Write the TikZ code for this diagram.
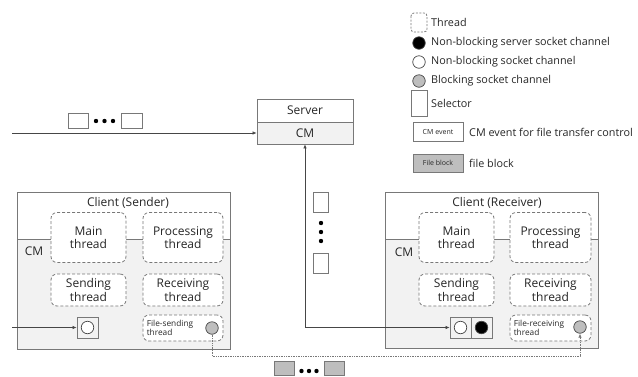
\documentclass[tikz,border=0pt]{standalone}
\usepackage{fontspec}
\setmainfont{Open Sans}
\usepackage{xcolor}
\usetikzlibrary{arrows.meta}

\definecolor{linegray}{RGB}{120,120,120}
\definecolor{wiregray}{RGB}{70,70,70}
\definecolor{cmgray}{RGB}{242,242,242}
\definecolor{blockgray}{RGB}{190,190,190}
\definecolor{txtgray}{RGB}{38,38,38}

\tikzset{
  box/.style={draw=linegray, line width=0.8pt},
  thread/.style={draw=linegray, dash pattern=on 3pt off 2pt, line width=0.8pt, rounded corners=6pt, fill=white,
    align=center, inner sep=0pt, font=\fontsize{12}{13.5}\selectfont},
  sock/.style={circle, draw=wiregray, line width=0.7pt, minimum size=12.5pt, inner sep=0pt},
  selbox/.style={box, minimum width=21pt, minimum height=21pt, inner sep=0pt},
  lbl/.style={font=\fontsize{12}{13.5}\selectfont, inner sep=1pt},
  legtxt/.style={anchor=west, font=\fontsize{10.8}{12}\selectfont, inner sep=1pt},
  smalltxt/.style={anchor=west, align=left, font=\fontsize{8.3}{9.5}\selectfont, inner sep=1pt},
  wire/.style={draw=wiregray, line width=0.6pt, -{Latex[length=4pt,width=3.5pt]}},
  fileline/.style={draw=linegray, densely dotted, line width=0.7pt, -{Latex[length=4pt,width=3.5pt]}}
}

\begin{document}
\begin{tikzpicture}[x=1pt, y=-1pt, color=txtgray]
  \useasboundingbox (0,0) rectangle (638,376);

  % legend
  \draw[box, dash pattern=on 2pt off 1.5pt, rounded corners=3pt] (411,13) rectangle (427,32);
  \node[legtxt] (lthr) at (430,22) {Thread};
  \node[sock, fill=black] (lsrv) at (419,43) {};
  \node[legtxt] (lsrvtxt) at (430,43) {Non-blocking server socket channel};
  \node[sock, fill=white] (lnb) at (419,62) {};
  \node[legtxt] (lnbtxt) at (430,62) {Non-blocking socket channel};
  \node[sock, fill=blockgray] (lbl) at (419,81) {};
  \node[legtxt] (lbltxt) at (430,81) {Blocking socket channel};
  \draw[box] (411,90) rectangle (427,116);
  \node[legtxt] (lsel) at (430,103) {Selector};
  \node[box, minimum width=50pt, minimum height=19pt, inner sep=0pt,
    font=\fontsize{7}{8}\selectfont] (levt) at (438,132) {CM event};
  \node[legtxt] (levttxt) at (468,132) {CM event for file transfer control};
  \node[box, fill=blockgray, minimum width=50pt, minimum height=18pt, inner sep=0pt,
    font=\fontsize{7}{8}\selectfont] (lblk) at (438,163) {File block};
  \node[legtxt] (lblktxt) at (468,163) {file block};

  % server
  \node[box, minimum width=96pt, minimum height=23pt, lbl] (srv) at (305,110.5) {Server};
  \node[box, fill=cmgray, minimum width=96pt, minimum height=22pt, lbl] (srvcm) at (305,133) {CM};
  \coordinate (inlet) at (12,133);
  \draw[wire] (inlet) -- (srvcm.west);
  \draw[box] (68,113) rectangle (88,128);
  \draw[box] (121,113) rectangle (142,128);
  \foreach \x in {96,104.5,113}{
    \fill[black] (\x,121) circle (2.2pt);
  }
  \draw[box] (313,192) rectangle (328,212);
  \draw[box] (313,253) rectangle (328,273);
  \foreach \y in {223,232,241}{
    \fill[black] (321,\y) circle (2.2pt);
  }

  % client (sender)
  \draw[box] (17,192) rectangle (230,349);
  \draw[box, fill=cmgray] (17,239) rectangle (230,349);
  \node[lbl] (sname) at (128,203) {Client (Sender)};
  \node[lbl] (scm) at (34,251) {CM};
  \node[thread, minimum width=75pt, minimum height=50pt] (smain) at (88.5,237.5) {Main\\thread};
  \node[thread, minimum width=80pt, minimum height=50pt] (sproc) at (183,237.5) {Processing\\thread};
  \node[thread, minimum width=75pt, minimum height=32pt] (ssend) at (88.5,290) {Sending\\thread};
  \node[thread, minimum width=80pt, minimum height=32pt] (srecv) at (183,290) {Receiving\\thread};
  \node[thread, minimum width=80pt, minimum height=26pt] (sfthr) at (183,328) {};
  \node[smalltxt] (sftxt) at ([xshift=3pt]sfthr.west) {File-sending\\thread};
  \node[sock, fill=blockgray] (sfile) at (212,328) {};
  \node[selbox] (ssel) at (87.5,327.5) {};
  \node[sock, fill=white] (ssock) at (ssel) {};
  \coordinate (sin) at (12,327.5);
  \draw[wire] (sin) -- (ssel.west);

  % client (receiver)
  \draw[box] (385,192) rectangle (598,348);
  \draw[box, fill=cmgray] (385,239) rectangle (598,348);
  \node[lbl] (rname) at (497,203) {Client (Receiver)};
  \node[lbl] (rcm) at (404,252) {CM};
  \node[thread, minimum width=75pt, minimum height=50pt] (rmain) at (456.5,237.5) {Main\\thread};
  \node[thread, minimum width=81pt, minimum height=50pt] (rproc) at (550.5,237.5) {Processing\\thread};
  \node[thread, minimum width=75pt, minimum height=32pt] (rsend) at (456.5,290) {Sending\\thread};
  \node[thread, minimum width=81pt, minimum height=32pt] (rrecv) at (550.5,290) {Receiving\\thread};
  \node[thread, minimum width=81pt, minimum height=26pt] (rfthr) at (550.5,328) {};
  \node[smalltxt] (rftxt) at ([xshift=3pt]rfthr.west) {File-receiving\\thread};
  \node[sock, fill=blockgray] (rfile) at (580,327) {};
  \node[selbox] (rsel) at (460.5,327.5) {};
  \node[selbox] (rssel) at (481.5,327.5) {};
  \node[sock, fill=white] (rsock) at (rsel) {};
  \node[sock, fill=black] (rssock) at (rssel) {};

  % connections
  \draw[wire, {Latex[length=4pt,width=3.5pt]}-{Latex[length=4pt,width=3.5pt]}] (srvcm.south) |- (rsel.west);
  \draw[fileline] (sfile.south) -- (sfile.south |- 0,356) -| (rfile.south);

  % file blocks
  \draw[box, fill=blockgray] (274,361) rectangle (294,375.6);
  \draw[box, fill=blockgray] (324,361) rectangle (344,375.6);
  \foreach \x in {301.5,309,316.5}{
    \fill[black] (\x,371) circle (2.2pt);
  }
\end{tikzpicture}
\end{document}
